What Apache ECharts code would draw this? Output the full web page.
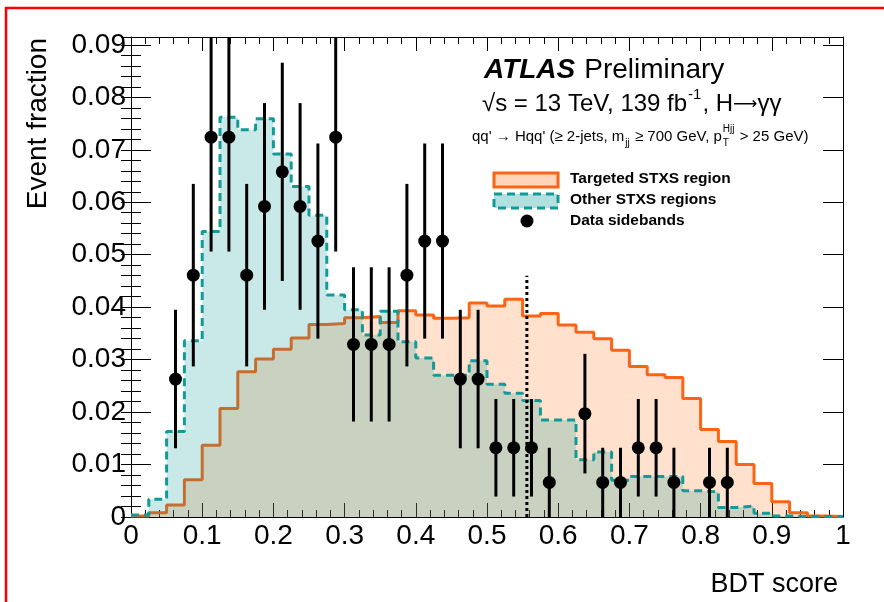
<!DOCTYPE html>
<html><head><meta charset="utf-8">
<script src="https://cdn.jsdelivr.net/npm/echarts@6/dist/echarts.min.js"></script>
<style>html,body{margin:0;padding:0;background:#fff}#c{width:884px;height:602px}</style>
</head><body><div id="c"></div>
<script>
// ---- data ----
const binLow = [0,0.025,0.05,0.075,0.1,0.125,0.15,0.175,0.2,0.225,0.25,0.275,0.3,0.325,0.35,0.375,0.4,0.425,0.45,0.475,
  0.5,0.525,0.55,0.575,0.6,0.625,0.65,0.675,0.7,0.725,0.75,0.775,0.8,0.825,0.85,0.875,0.9,0.925,0.95,0.975];
const binHigh = 1.0;
const targeted = [0.0002,0.0008,0.0023,0.0071,0.0137,0.0207,0.0277,0.0301,0.0320,0.0341,
  0.0367,0.0369,0.0380,0.0382,0.0371,0.0393,0.0385,0.0379,0.0380,0.0408,
  0.0402,0.0415,0.0383,0.0388,0.0366,0.0352,0.0340,0.0318,0.0287,0.0271,
  0.0266,0.0226,0.0167,0.0144,0.0100,0.0064,0.0029,0.0008,0.0002,0.0001];
const other = [0.0004,0.0034,0.0163,0.0336,0.0544,0.0762,0.0738,0.0759,0.0692,0.0630,
  0.0575,0.0423,0.0395,0.0347,0.0392,0.0334,0.0303,0.0270,0.0270,0.0298,
  0.0253,0.0236,0.0222,0.0185,0.0185,0.0109,0.0124,0.0070,0.0077,0.0077,
  0.0077,0.0050,0.0048,0.0018,0.0021,0.0007,0.0002,0.0001,0.0001,0.0001];
const dataX = [0.0625,0.0875,0.1125,0.1375,0.1625,0.1875,0.2125,0.2375,0.2625,0.2875,
  0.3125,0.3375,0.3625,0.3875,0.4125,0.4375,0.4625,0.4875,0.5125,0.5375,
  0.5625,0.5875,0.6375,0.6625,0.6875,0.7125,0.7375,0.7625,0.8125,0.8375];
const dataY = [0.0263,0.0461,0.0724,0.0724,0.0461,0.0592,0.0658,0.0592,0.0526,0.0724,
  0.0329,0.0329,0.0329,0.0461,0.0526,0.0526,0.0263,0.0263,0.0132,0.0132,
  0.0132,0.0066,0.0197,0.0066,0.0066,0.0132,0.0132,0.0066,0.0066,0.0066];
const dataErr = [0.0132,0.0174,0.0218,0.0218,0.0174,0.0197,0.0208,0.0197,0.0186,0.0218,
  0.0147,0.0147,0.0147,0.0174,0.0186,0.0186,0.0132,0.0132,0.0093,0.0093,
  0.0093,0.0066,0.0114,0.0066,0.0066,0.0093,0.0093,0.0066,0.0066,0.0066];
const cutValue = 0.556;
const cutTop = 0.046;
const legendLabels = ['Targeted STXS region','Other STXS regions','Data sidebands'];

// ---- styling ----
const FONT = '"Liberation Sans", Arial, Helvetica, sans-serif';
const orangeLine = '#fa6414', orangeFill = 'rgba(255,102,0,0.28)';
const tealLine = '#119b98', tealFill = 'rgba(0,153,153,0.30)';

const histData = (vals) => binLow.map((x, i) => [x, vals[i]]).concat([[binHigh, vals[vals.length - 1]]]);
const pointData = dataX.map((x, i) => [x, dataY[i], dataErr[i]]);

const cnv = document.createElement('canvas').getContext('2d');
function tw(t, f) { cnv.font = f; return cnv.measureText(t).width; }

const graphics = [];
function txt(x, y, t, f, align, extra) {
  graphics.push(Object.assign({type:'text', x:x, y:y, silent:true, z:100,
    style:{text:t, font:f, fill:'#000', textAlign:align||'left', textVerticalAlign:'middle'}}, extra||{}));
}
// red frame
graphics.push({type:'rect', shape:{x:6, y:8, width:1200, height:1200}, style:{fill:'none', stroke:'#ff0000', lineWidth:2.5}, silent:true, z:200});
// axis titles
txt(38, 38, 'Event fraction', '28px ' + FONT, 'right', {rotation: Math.PI/2});
txt(838, 585, 'BDT score', '27px ' + FONT, 'right');
// ATLAS label
const fAtlas = 'italic bold 28px ' + FONT;
txt(484, 70, 'ATLAS', fAtlas);
txt(484 + tw('ATLAS', fAtlas) + 9, 70, 'Preliminary', '28px ' + FONT);
// second line
(function(){
  const f = '24px ' + FONT, fs = '15px ' + FONT, fa = '17px "DejaVu Sans", sans-serif';
  let x = 482, y = 104;
  const s1 = '\u221As = 13 TeV, 139 fb';
  txt(x, y, s1, f); x += tw(s1, f) + 1;
  txt(x, y - 9, '-1', fs); x += tw('-1', fs) + 1;
  const s2 = ', H';
  txt(x, y, s2, f); x += tw(s2, f);
  txt(x, y + 1, '\u27f6', fa); x += tw('\u27f6', fa);
  txt(x, y, '\u03b3\u03b3', f);
})();
// third line
(function(){
  const f = '15px ' + FONT, fs = '10px ' + FONT;
  let x = 472, y = 137;
  const s1 = "qq' \u2192 Hqq' (\u2265 2-jets, m";
  txt(x, y, s1, f); x += tw(s1, f);
  txt(x + 1, y + 6, 'jj', fs); x += tw('jj', fs) + 2;
  const s3 = ' \u2265 700 GeV, p';
  txt(x, y, s3, f); x += tw(s3, f);
  txt(x + 1, y + 6, 'T', fs); txt(x + 1, y - 8, 'Hjj', fs); x += tw('Hjj', fs) + 2;
  txt(x, y, ' > 25 GeV)', f);
})();
// legend
graphics.push({type:'rect', shape:{x:494, y:173, width:64, height:14}, style:{fill:orangeFill, stroke:orangeLine, lineWidth:3}, silent:true, z:100});
graphics.push({type:'rect', shape:{x:494, y:194, width:64, height:14}, style:{fill:tealFill, stroke:tealLine, lineWidth:3, lineDash:[8,5]}, silent:true, z:100});
graphics.push({type:'circle', shape:{cx:527, cy:221, r:6.5}, style:{fill:'#000'}, silent:true, z:100});
const fLeg = 'bold 15.5px ' + FONT;
legendLabels.forEach((l, i) => txt(570, 179 + 21 * i, l, fLeg));

const axisCommon = {
  type:'value', splitLine:{show:false},
  axisLine:{show:true, onZero:false, lineStyle:{color:'#000', width:1}},
};
const option = {
  animation:false,
  backgroundColor:'#fff',
  grid:{left:131, right:41, top:37, bottom:85, containLabel:false},
  xAxis:[
    Object.assign({}, axisCommon, {min:0, max:1, interval:0.1, position:'bottom',
      axisTick:{inside:true, length:14, lineStyle:{color:'#000'}},
      minorTick:{show:true, splitNumber:5, length:7, lineStyle:{color:'#000'}},
      axisLabel:{color:'#000', fontSize:28, fontFamily:FONT, margin:5}}),
    Object.assign({}, axisCommon, {min:0, max:1, interval:0.1, position:'top',
      axisTick:{inside:true, length:14, lineStyle:{color:'#000'}},
      minorTick:{show:true, splitNumber:5, length:7, lineStyle:{color:'#000'}},
      axisLabel:{show:false}})
  ],
  yAxis:[
    Object.assign({}, axisCommon, {min:0, max:0.0915, interval:0.01, position:'left',
      axisTick:{inside:true, length:20, lineStyle:{color:'#000'}},
      axisLabel:{color:'#000', fontSize:28, fontFamily:FONT, margin:5, showMaxLabel:false}}),
    Object.assign({}, axisCommon, {min:0, max:0.0915, interval:0.002, position:'left',
      axisLine:{show:false}, axisTick:{inside:true, length:10, lineStyle:{color:'#000'}}, axisLabel:{show:false}}),
    Object.assign({}, axisCommon, {min:0, max:0.0915, interval:0.01, position:'right',
      axisTick:{inside:true, length:20, lineStyle:{color:'#000'}}, axisLabel:{show:false}}),
    Object.assign({}, axisCommon, {min:0, max:0.0915, interval:0.002, position:'right',
      axisLine:{show:false}, axisTick:{inside:true, length:10, lineStyle:{color:'#000'}}, axisLabel:{show:false}})
  ],
  series:[
    {name:legendLabels[0], type:'line', step:'end', data:histData(targeted), symbol:'none', clip:true,
      lineStyle:{color:orangeLine, width:3}, areaStyle:{color:orangeFill, origin:'start'}, z:2},
    {name:legendLabels[1], type:'line', step:'end', data:histData(other), symbol:'none', clip:true,
      lineStyle:{color:tealLine, width:3, type:[8,5]}, areaStyle:{color:tealFill, origin:'start'}, z:3},
    {name:'cut', type:'line', data:[[cutValue, 0], [cutValue, cutTop]], symbol:'none',
      lineStyle:{color:'#000', width:3, type:[3,3]}, z:4},
    {name:'errors', type:'custom', data:pointData, clip:true, encode:{x:0, y:1}, z:5,
      renderItem:function(params, api){
        const x = api.value(0), y = api.value(1), e = api.value(2);
        const p1 = api.coord([x, y - e]), p2 = api.coord([x, y + e]);
        return {type:'line', shape:{x1:p1[0], y1:p1[1], x2:p2[0], y2:p2[1]}, style:{stroke:'#000', lineWidth:3}};
      }},
    {name:legendLabels[2], type:'scatter', data:pointData, symbol:'circle', symbolSize:13,
      itemStyle:{color:'#000', opacity:1}, z:6}
  ],
  graphic:{elements:graphics}
};
const chart = echarts.init(document.getElementById('c'), null, {renderer:'canvas'});
chart.setOption(option);
</script>
</body></html>
